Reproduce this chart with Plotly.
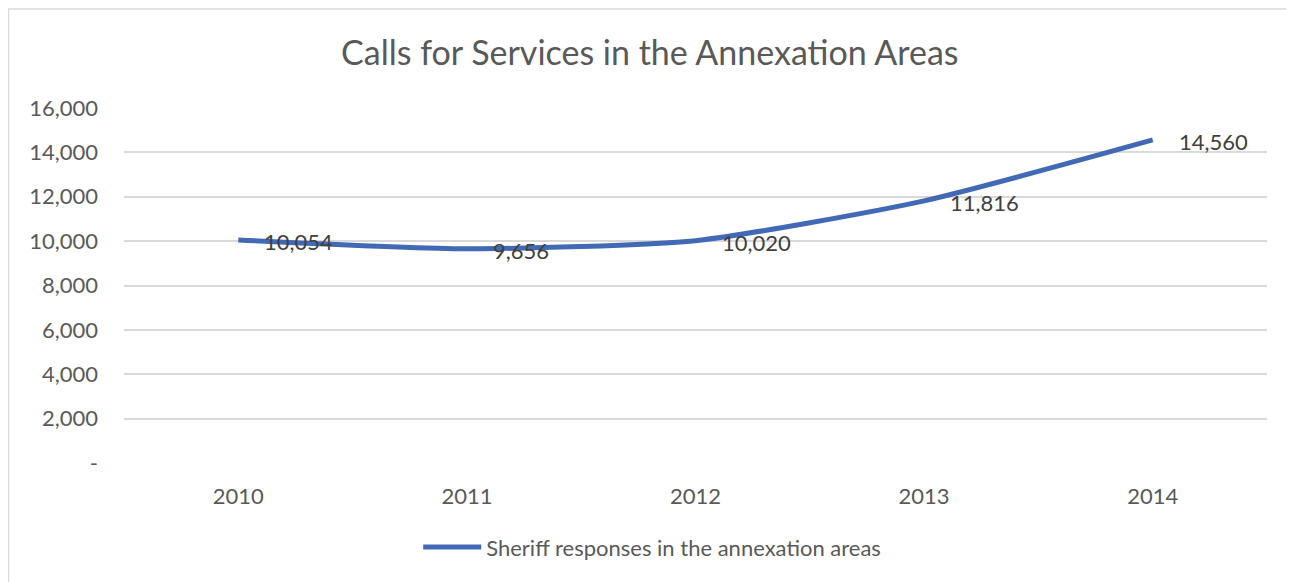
import plotly.graph_objects as go

years = ["2010", "2011", "2012", "2013", "2014"]
responses = [10054, 9656, 10020, 11816, 14560]
series_name = "Sheriff responses in the annexation areas"
title_text = "Calls for Services in the Annexation Areas"
y_tickvals = [0, 2000, 4000, 6000, 8000, 10000, 12000, 14000, 16000]
y_ticktext = ["-", "2,000", "4,000", "6,000", "8,000", "10,000", "12,000", "14,000", "16,000"]

FONT = "Lato"
xpos = list(range(len(years)))
fig = go.Figure()
fig.add_trace(go.Scatter(
    x=xpos, y=responses, mode="lines", name=series_name,
    line=dict(color="#4169B6", width=5, shape="spline", smoothing=0.6),
    hoverinfo="skip",
))
for x, v in zip(xpos, responses):
    fig.add_annotation(x=x, y=v, text=f"{v:,}", showarrow=False,
                       xanchor="left", yanchor="middle", xshift=24, yshift=-2,
                       font=dict(family=FONT, size=22, color="#404040"))

fig.update_layout(
    width=1294, height=582,
    margin=dict(l=116, r=35, t=100, b=127),
    paper_bgcolor="white", plot_bgcolor="white",
    title=dict(text=title_text, x=0.496, xanchor="center", y=0.923, yanchor="middle",
               font=dict(family=FONT, size=34, color="#595959")),
    showlegend=True,
    legend=dict(orientation="h", x=0.2574, xanchor="left", y=-0.237, yanchor="middle",
                font=dict(family=FONT, size=22, color="#595959"), itemwidth=58),
    xaxis=dict(range=[-0.5, 4.5], tickvals=xpos, ticktext=years,
               showgrid=False, zeroline=False, showline=False,
               ticks="", ticklabelstandoff=18,
               tickfont=dict(family=FONT, size=22, color="#595959")),
    yaxis=dict(range=[0, 16000], tickvals=y_tickvals, ticktext=y_ticktext,
               showgrid=True, gridcolor="#D9D9D9", gridwidth=1.5, zeroline=False,
               showline=False, ticks="", ticklabelstandoff=25,
               tickfont=dict(family=FONT, size=22, color="#595959")),
    shapes=[dict(type="rect", xref="paper", yref="paper",
                 x0=-0.1011, x1=1.05, y0=-0.5, y1=1.279,
                 line=dict(color="#D9D9D9", width=1.5), fillcolor="rgba(0,0,0,0)", layer="below")],
)
fig.write_html("out.html")
